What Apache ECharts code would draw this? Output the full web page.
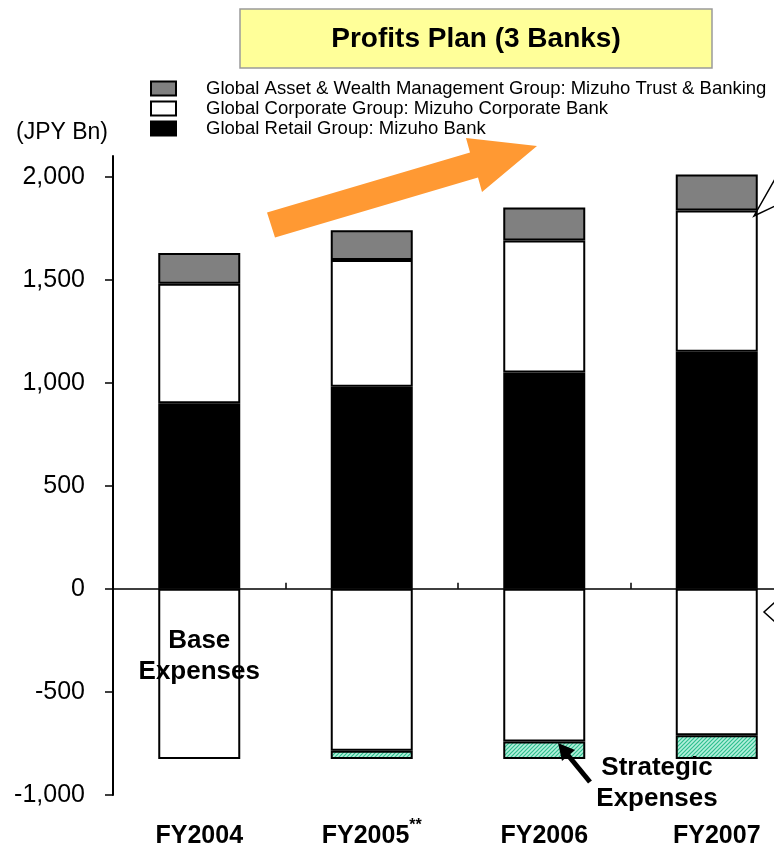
<!DOCTYPE html>
<html>
<head>
<meta charset="utf-8">
<script src="https://cdn.jsdelivr.net/npm/echarts@6/dist/echarts.min.js"></script>
<style>
html, body { margin: 0; padding: 0; background: #fff; }
#chart { width: 774px; height: 851px; }
</style>
</head>
<body>
<div id="chart"></div>
<script>
// Profits plan of the three banks, JPY Bn
const categories = ['FY2004', 'FY2005', 'FY2006', 'FY2007'];
const retail = [900, 980, 1050, 1150];          // Global Retail Group: Mizuho Bank
const corporate = [580, 615, 640, 685];         // Global Corporate Group: Mizuho Corporate Bank
const trust = [150, 145, 160, 175];             // Global Asset & Wealth Management Group
const baseExpenses = [-825, -785, -740, -710];
const strategicExpenses = [null, -40, -85, -115];
const yTicks = [-1000, -500, 0, 500, 1000, 1500, 2000];

const groupNames = [
  'Global Asset & Wealth Management Group: Mizuho Trust & Banking',
  'Global Corporate Group: Mizuho Corporate Bank',
  'Global Retail Group: Mizuho Bank'
];

const FONT = '"Liberation Sans", Arial, sans-serif';

// diagonal hatch used for the strategic expense blocks
function hatchPattern() {
  const c = document.createElement('canvas');
  c.width = 4; c.height = 4;
  const g = c.getContext('2d');
  g.fillStyle = '#b4f0dc';
  g.fillRect(0, 0, 4, 4);
  g.strokeStyle = '#2fbf8e';
  g.lineWidth = 1.2;
  g.beginPath();
  g.moveTo(0, 4); g.lineTo(4, 0);
  g.moveTo(-1, 1); g.lineTo(1, -1);
  g.moveTo(3, 5); g.lineTo(5, 3);
  g.stroke();
  return c;
}

const chart = echarts.init(document.getElementById('chart'));

const baseData = baseExpenses.map((v, i) => i === 0 ? {
  value: v,
  label: {
    show: true,
    position: 'insideTop',
    distance: 36,
    formatter: 'Base\nExpenses',
    fontFamily: FONT,
    fontSize: 26,
    fontWeight: 'bold',
    lineHeight: 31,
    color: '#000'
  }
} : v);

const option = {
  animation: false,
  textStyle: { fontFamily: FONT },
  legend: {
    orient: 'vertical',
    left: 145,
    top: 74,
    itemWidth: 25,
    itemHeight: 14,
    itemGap: 1,
    icon: 'rect',
    selectedMode: false,
    data: groupNames,
    textStyle: { fontFamily: FONT, fontSize: 18.5, lineHeight: 18, color: '#000', padding: [0, 0, 0, 25] }
  },
  // the plot area runs past the right edge of the page
  grid: { left: 113, width: 690, top: 156, bottom: 56, outerBoundsMode: 'none', containLabel: false },
  xAxis: [
    {
      type: 'category',
      data: categories,
      position: 'bottom',
      axisLine: { show: false, onZero: false },
      axisTick: { show: false },
      axisLabel: {
        margin: 23,
        color: '#000',
        formatter: v => v === 'FY2005' ? '{n|' + v + '}{s|**}' : '{n|' + v + '}',
        rich: {
          n: { fontFamily: FONT, fontSize: 25, fontWeight: 'bold', color: '#000', lineHeight: 36 },
          s: { fontFamily: FONT, fontSize: 16, fontWeight: 'bold', color: '#000', verticalAlign: 'top', lineHeight: 10 }
        }
      }
    },
    {
      type: 'category',
      data: categories,
      position: 'top',
      axisLine: { show: true, onZero: true, lineStyle: { color: '#000', width: 1.5 } },
      axisTick: { show: true, inside: false, length: 6, lineStyle: { color: '#000', width: 1.5 } },
      axisLabel: { show: false }
    }
  ],
  yAxis: {
    type: 'value',
    min: -1000,
    max: 2100,
    name: '(JPY Bn)',
    nameLocation: 'end',
    nameGap: 23,
    nameTextStyle: { fontFamily: FONT, fontSize: 23, color: '#000', align: 'right', verticalAlign: 'middle', padding: [0, 5, 0, 0] },
    axisLine: { show: true, lineStyle: { color: '#000', width: 2 } },
    axisTick: { show: true, length: 8, customValues: yTicks, lineStyle: { color: '#000', width: 1.5 } },
    axisLabel: {
      customValues: yTicks,
      margin: 28,
      fontFamily: FONT,
      fontSize: 25,
      color: '#000',
      formatter: v => v.toLocaleString('en-US')
    },
    splitLine: { show: false }
  },
  series: [
    {
      name: groupNames[2], type: 'bar', stack: 'total', barWidth: 82, data: retail,
      itemStyle: { color: '#000', borderColor: '#000', borderWidth: 1.5 }
    },
    {
      name: groupNames[1], type: 'bar', stack: 'total', barWidth: 82, data: corporate,
      itemStyle: { color: '#fff', borderColor: '#000', borderWidth: 2 }
    },
    {
      name: groupNames[0], type: 'bar', stack: 'total', barWidth: 82, data: trust,
      itemStyle: { color: '#808080', borderColor: '#000', borderWidth: 2 }
    },
    {
      name: 'Base Expenses', type: 'bar', stack: 'total', barWidth: 82, data: baseData,
      itemStyle: { color: '#fff', borderColor: '#000', borderWidth: 2 }
    },
    {
      name: 'Strategic Expenses', type: 'bar', stack: 'total', barWidth: 82, data: strategicExpenses,
      itemStyle: { color: { image: hatchPattern(), repeat: 'repeat' }, borderColor: '#000', borderWidth: 2 }
    }
  ],
  graphic: [
    // title box
    {
      type: 'rect', shape: { x: 240, y: 9, width: 472, height: 59 },
      style: { fill: '#ffff99', stroke: '#9a9a9a', lineWidth: 1.5 }, z: 10
    },
    {
      type: 'text', x: 476, y: 39, z: 11,
      style: { text: 'Profits Plan (3 Banks)', font: 'bold 28px ' + FONT, fill: '#000', align: 'center', verticalAlign: 'middle' }
    },
    // growth arrow
    {
      type: 'polygon', z: 5,
      shape: { points: [[267, 212.5], [470, 152.5], [466, 138], [537, 146], [482, 192], [478, 177.5], [275, 237.5]] },
      style: { fill: '#ff9933' }
    },
    // strategic expenses pointer
    {
      type: 'line', z: 12, shape: { x1: 590, y1: 782, x2: 567, y2: 754 },
      style: { stroke: '#000', lineWidth: 5 }
    },
    {
      type: 'polygon', z: 12, shape: { points: [[558, 743], [575, 750], [562, 761]] },
      style: { fill: '#000' }
    },
    {
      type: 'text', x: 657, y: 783, z: 12,
      style: { text: 'Strategic\nExpenses', font: 'bold 26px ' + FONT, lineHeight: 31, fill: '#000', align: 'center', verticalAlign: 'middle' }
    },
    // callout edges on the right
    {
      type: 'polyline', z: 12, shape: { points: [[775, 179], [754, 216], [775, 206]] },
      style: { stroke: '#000', lineWidth: 1.5, fill: null }
    },
    {
      type: 'polyline', z: 12, shape: { points: [[775, 602], [764, 612], [775, 622]] },
      style: { stroke: '#000', lineWidth: 1.5, fill: null }
    }
  ]
};

chart.setOption(option);
</script>
</body>
</html>
